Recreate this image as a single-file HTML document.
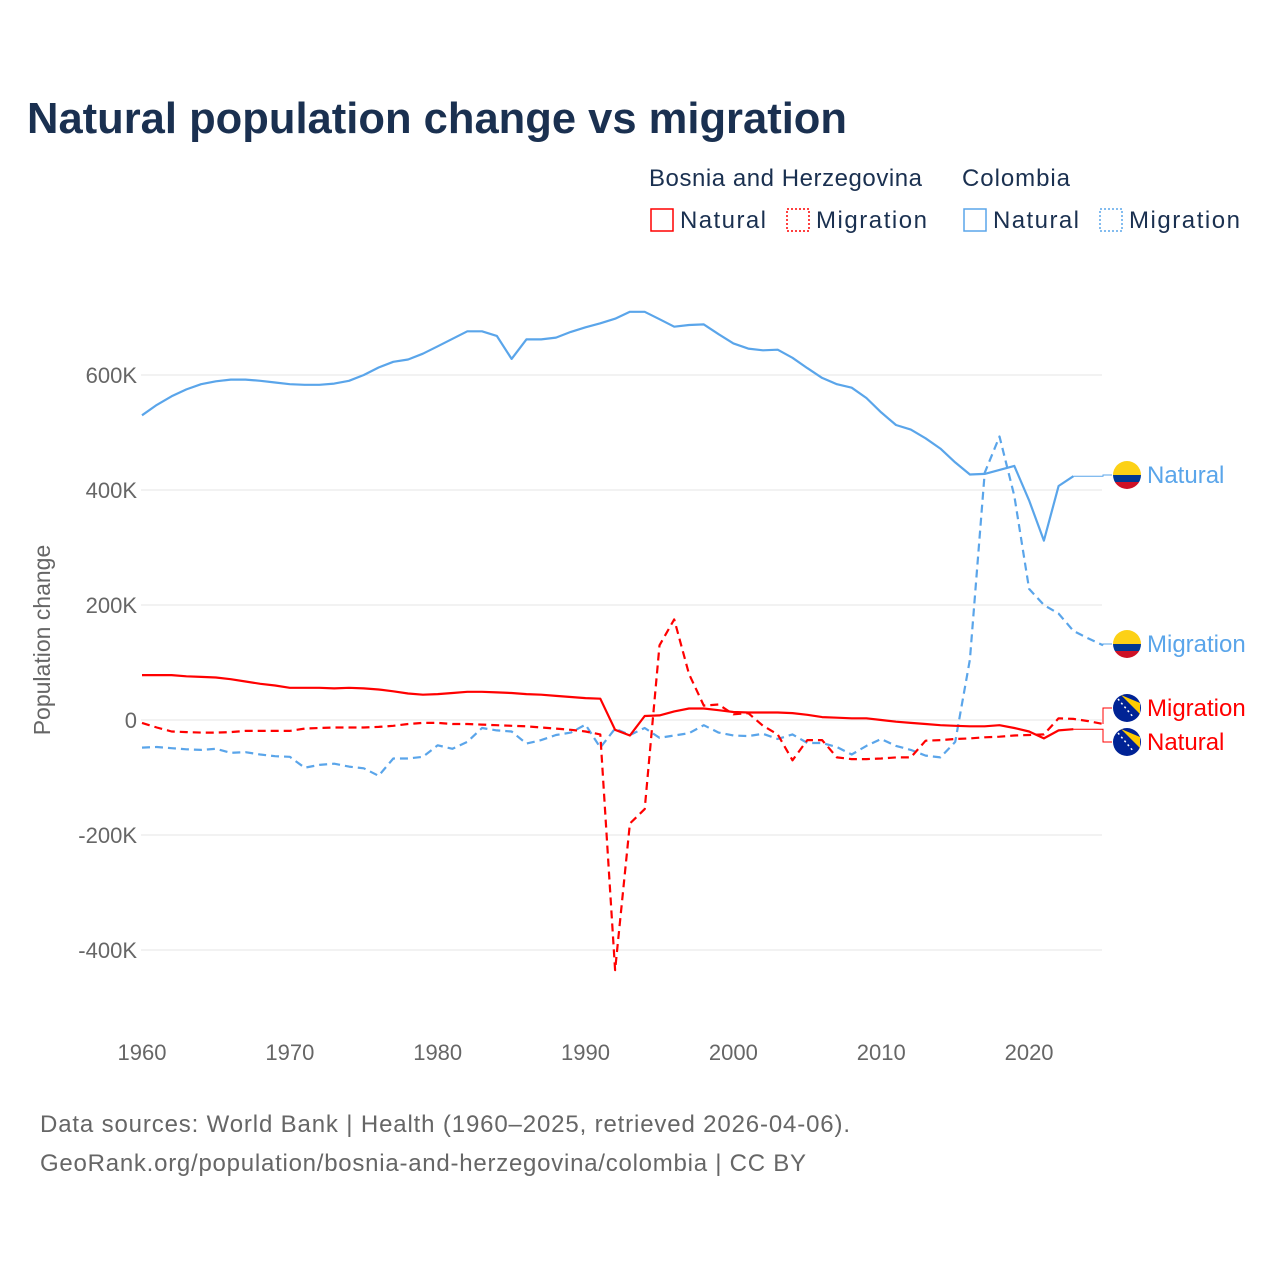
<!DOCTYPE html>
<html><head><meta charset="utf-8"><style>
body{margin:0;background:#fff;font-family:"Liberation Sans",sans-serif}
svg text{font-family:"Liberation Sans",sans-serif}
</style></head><body>
<svg width="1280" height="1280" xmlns="http://www.w3.org/2000/svg" id="chart">
<text x="27" y="133" font-size="44" font-weight="bold" fill="#1a3050" textLength="820" lengthAdjust="spacingAndGlyphs">Natural population change vs migration</text>
<g font-size="24" fill="#1a3050">
<text x="649" y="186" textLength="273">Bosnia and Herzegovina</text>
<text x="962" y="186" textLength="108">Colombia</text>
<g><rect x="651" y="209" width="22" height="22" fill="none" stroke="#f00" stroke-width="1.5"/><text x="680" y="228" textLength="86">Natural</text></g>
<g><rect x="787" y="209" width="22" height="22" fill="none" stroke="#f00" stroke-width="1.5" stroke-dasharray="2,2"/><text x="816" y="228" textLength="111">Migration</text></g>
<g><rect x="964" y="209" width="22" height="22" fill="none" stroke="#5aa5ea" stroke-width="1.5"/><text x="993" y="228" textLength="86">Natural</text></g>
<g><rect x="1100" y="209" width="22" height="22" fill="none" stroke="#5aa5ea" stroke-width="1.5" stroke-dasharray="2,2"/><text x="1129" y="228" textLength="111">Migration</text></g>
</g>
<g id="grid"></g><g id="series"></g><g id="labels"></g>
<text transform="translate(50,640) rotate(-90)" text-anchor="middle" font-size="23" fill="#666">Population change</text>
<text x="40" y="1132" font-size="24" fill="#666" textLength="810">Data sources: World Bank | Health (1960–2025, retrieved 2026-04-06).</text>
<text x="40" y="1171" font-size="24" fill="#666" textLength="766">GeoRank.org/population/bosnia-and-herzegovina/colombia | CC BY</text>
</svg>
<script>
const yTicks=[600,400,200,0,-200,-400];
const yTickLabels=["600K","400K","200K","0","-200K","-400K"];
const xTicks=[1960,1970,1980,1990,2000,2010,2020];
const colNatural=[530,548,563,575,584,589,592,592,590,587,584,583,583,585,590,600,613,623,627,637,650,663,676,676,668,628,662,662,665,675,683,690,698,710,710,697,684,687,688,671,655,646,643,644,630,612,595,584,578,560,535,513,505,490,472,448,427,428,435,442,382,312,407,424];
const colMigration=[-48,-47,-49,-51,-52,-50,-57,-56,-60,-63,-64,-83,-78,-76,-81,-84,-97,-67,-67,-64,-44,-50,-38,-14,-18,-20,-41,-35,-26,-22,-8,-48,-15,-26,-14,-31,-27,-23,-9,-22,-27,-28,-24,-33,-25,-40,-40,-47,-60,-45,-33,-45,-52,-62,-65,-38,105,430,493,390,228,200,185,155,142,130];
const bihNatural=[78,78,78,76,75,74,71,67,63,60,56,56,56,55,56,55,53,50,46,44,45,47,49,49,48,47,45,44,42,40,38,37,-17,-27,7,8,15,20,20,17,14,13,13,13,12,9,5,4,3,3,0,-3,-5,-7,-9,-10,-11,-11,-9,-14,-20,-32,-18,-16];
const bihMigration=[-5,-13,-20,-21,-22,-22,-21,-19,-19,-19,-19,-15,-14,-13,-13,-13,-12,-10,-7,-5,-5,-7,-7,-8,-9,-10,-11,-13,-15,-17,-20,-25,-435,-180,-155,130,175,80,25,27,10,12,-10,-25,-70,-35,-35,-65,-68,-68,-67,-65,-65,-36,-35,-33,-32,-30,-29,-27,-26,-25,3,2,-2,-7];
const NS="http://www.w3.org/2000/svg";
const xs=y=>142+(y-1960)*(961/65);
const ys=v=>720-v*0.575;
function mk(t,a,p){const e=document.createElementNS(NS,t);for(const k in a)e.setAttribute(k,a[k]);p.appendChild(e);return e;}
const grid=document.getElementById('grid');
yTicks.forEach((v,i)=>{
 const l=mk('line',{x1:141,x2:1102,y1:ys(v),y2:ys(v),stroke:'#e6e6e6','stroke-width':1},grid);
 
 
 const t=mk('text',{x:137,y:ys(v)+8,'text-anchor':'end','font-size':22,fill:'#666'},grid);
 t.textContent=yTickLabels[i];
 
 
});
xTicks.forEach(y=>{
 const t=mk('text',{x:xs(y),y:1060,'text-anchor':'middle','font-size':22,fill:'#666'},grid);
 t.textContent=y;
 
 
});
const S=document.getElementById('series');
function line(arr,color,dash,name){
 const d=arr.map((v,i)=>(i?'L':'M')+xs(1960+i).toFixed(1)+','+ys(v).toFixed(1)).join('');
 const p=mk('path',{d:d,fill:'none',stroke:color,'stroke-width':2.2,'stroke-dasharray':dash||'none','stroke-linejoin':'round'},S);
 
 
}
line(colNatural,'#5aa5ea','','line-colombia-natural');
line(colMigration,'#5aa5ea','8,5','line-colombia-migration');
line(bihNatural,'#f00','','line-bih-natural');
line(bihMigration,'#f00','8,5','line-bih-migration');
const L=document.getElementById('labels');
function lab(arr,ly,color,text,col,name){
 const n=arr.length-1,x0=xs(1960+n),y0=ys(arr[n]);
 const c=mk('path',{d:`M${x0},${y0}L1103,${y0}L1103,${ly}L1112,${ly}`,fill:'none',stroke:color,'stroke-width':1},L);
 
 
 const g=mk('g',{},L);
 
 
 const cx=1127;
 if(col){
  mk('clipPath',{id:'c'+name},g).appendChild(document.createElementNS(NS,'circle')).setAttribute('r',14);
  const cp=g.lastChild.firstChild;cp.setAttribute('cx',cx);cp.setAttribute('cy',ly);
  const gg=mk('g',{'clip-path':`url(#c${name})`},g);
  mk('rect',{x:cx-14,y:ly-14,width:28,height:14,fill:'#fcd116'},gg);
  mk('rect',{x:cx-14,y:ly,width:28,height:7,fill:'#003893'},gg);
  mk('rect',{x:cx-14,y:ly+7,width:28,height:7,fill:'#ce1126'},gg);
 } else {
  mk('circle',{cx:cx,cy:ly,r:14,fill:'#002395'},g);
  mk('path',{d:`M${cx-6},${ly-13}L${cx+13},${ly-5}L${cx+13},${ly+6}Z`,fill:'#fecb00'},g);
  mk('path',{d:`M${cx-9},${ly-9}L${cx+7},${ly+10}`,stroke:'#fff','stroke-width':1.5,'stroke-dasharray':'2,3'},g);
 }
 const t=mk('text',{x:1147,y:ly+8,'font-size':24,fill:color},g);
 t.textContent=text;
}
lab(colNatural,475,'#5aa5ea','Natural',true,'label-colombia-natural');
lab(colMigration,644,'#5aa5ea','Migration',true,'label-colombia-migration');
lab(bihMigration,708,'#f00','Migration',false,'label-bih-migration');
lab(bihNatural,742,'#f00','Natural',false,'label-bih-natural');
</script>
</body></html>
